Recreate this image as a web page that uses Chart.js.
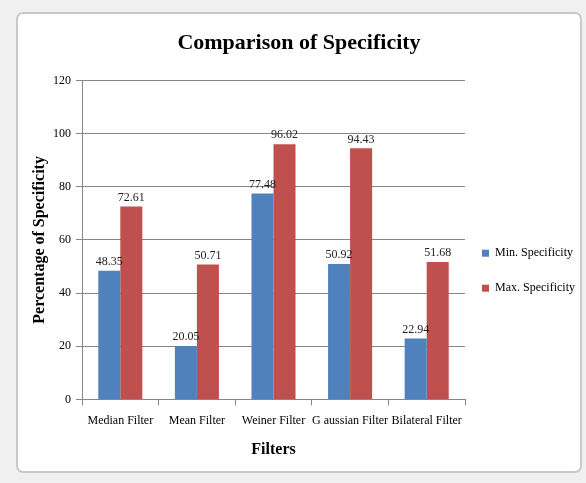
<!DOCTYPE html>
<html>
<head>
<meta charset="utf-8">
<script src="https://cdn.jsdelivr.net/npm/chart.js@4"></script>
<style>
  html, body { margin: 0; padding: 0; width: 586px; height: 483px; background: #f0f0f0; overflow: hidden; }
  #card {
    position: absolute; left: 16px; top: 12px; width: 562px; height: 457px;
    background: #ffffff; border: 2px solid #c9c9c9; border-radius: 7px;
  }
  #chart { display: block; }
</style>
</head>
<body>
<div id="card"><canvas id="chart" width="562" height="457"></canvas></div>
<script>
// Specificity (%) of each denoising filter
const categories = ['Median Filter', 'Mean Filter', 'Weiner Filter', 'G aussian Filter', 'Bilateral Filter'];
const minSpecificity = [48.35, 20.05, 77.48, 50.92, 22.94];
const maxSpecificity = [72.61, 50.71, 96.02, 94.43, 51.68];
const yTicks = [0, 20, 40, 60, 80, 100, 120];

const SERIF = '"Liberation Serif", "Times New Roman", serif';

// Writes each bar's value centred just above it
const valueLabels = {
  id: 'valueLabels',
  afterDatasetsDraw(chart) {
    const ctx = chart.ctx;
    ctx.save();
    ctx.font = '12px ' + SERIF;
    ctx.fillStyle = '#222';
    ctx.textAlign = 'center';
    ctx.textBaseline = 'bottom';
    chart.data.datasets.forEach((ds, i) => {
      chart.getDatasetMeta(i).data.forEach((bar, j) => {
        ctx.fillText(ds.data[j].toFixed(2), bar.x, bar.y - 3);
      });
    });
    ctx.restore();
  }
};

const defaultLabels = Chart.defaults.plugins.legend.labels.generateLabels;

new Chart(document.getElementById('chart'), {
  type: 'bar',
  data: {
    labels: categories,
    datasets: [
      { label: 'Min. Specificity', data: minSpecificity, backgroundColor: '#4F81BD' },
      { label: 'Max. Specificity', data: maxSpecificity, backgroundColor: '#C0504D' }
    ]
  },
  options: {
    responsive: false,
    animation: false,
    layout: { padding: { left: 0, right: 0, top: 4, bottom: 8 } },
    datasets: { bar: { categoryPercentage: 0.575, barPercentage: 1.0 } },
    plugins: {
      title: {
        display: true,
        text: 'Comparison of Specificity',
        color: '#000',
        font: { family: SERIF, size: 22, weight: 'bold' },
        padding: { top: 12, bottom: 24 }
      },
      legend: {
        position: 'right',
        align: 'center',
        maxWidth: 115,
        // empty spacer title so the entries sit a little below the middle
        title: { display: true, text: ' ', font: { size: 12 }, padding: { top: 0, bottom: 52 } },
        labels: {
          boxWidth: 7, boxHeight: 7, padding: 17,
          color: '#000',
          font: { family: SERIF, size: 12, lineHeight: '18px' },
          // single-line arrays let each entry take the taller line height
          generateLabels(chart) {
            return defaultLabels(chart).map(item => Object.assign(item, { text: [item.text] }));
          }
        }
      },
      tooltip: { enabled: false }
    },
    scales: {
      x: {
        grid: { display: true, drawOnChartArea: false, drawTicks: true, tickLength: 6, color: '#868686' },
        border: { display: true, color: '#868686', width: 1 },
        ticks: { color: '#000', font: { family: SERIF, size: 12 }, maxRotation: 0, autoSkip: false, padding: 8 },
        title: { display: true, text: 'Filters', color: '#000', font: { family: SERIF, size: 16, weight: 'bold' }, padding: { top: 4 } }
      },
      y: {
        min: 0, max: 120,
        afterBuildTicks(scale) { scale.ticks = yTicks.map(v => ({ value: v })); },
        afterFit(scale) { scale.width = 64; },
        grid: { color: '#868686', lineWidth: 1, drawTicks: true, tickLength: 6 },
        border: { display: true, color: '#868686', width: 1 },
        ticks: { color: '#000', font: { family: SERIF, size: 12 }, padding: 5 },
        title: { display: true, text: 'Percentage of Specificity', color: '#000', font: { family: SERIF, size: 16, weight: 'bold' }, padding: { top: 12, bottom: 4 } }
      }
    }
  },
  plugins: [valueLabels]
});
</script>
</body>
</html>
